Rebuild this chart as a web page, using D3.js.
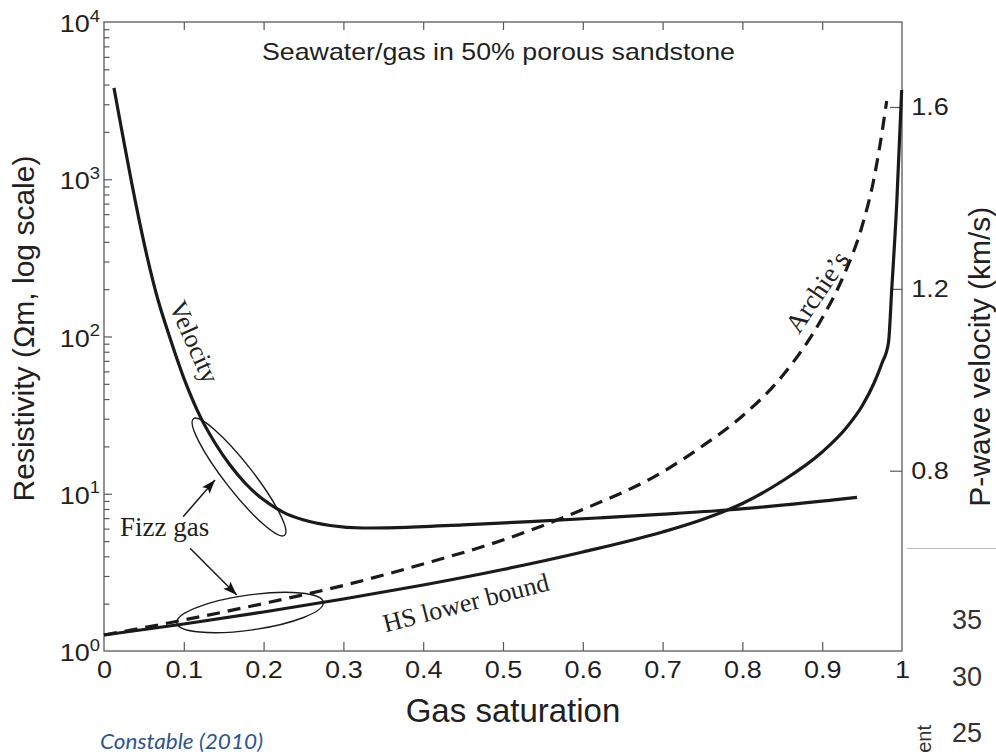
<!DOCTYPE html>
<html>
<head>
<meta charset="utf-8">
<script src="https://cdn.jsdelivr.net/npm/d3@7"></script>
<style>
  body { margin: 0; background: #fff; }
  svg { display: block; }
  .sans { font-family: "Liberation Sans", Arial, Helvetica, sans-serif; fill: #231f20; }
  .note { font-family: "Liberation Serif", "Times New Roman", serif; fill: #231f20; }
  .axis line { stroke: #58595b; stroke-width: 1.2; }
</style>
</head>
<body>
<script>
// Gas saturation vs resistivity (left, log) and P-wave velocity (right)
const velSw  = [0.0125, 0.0677, 0.0827, 0.1015, 0.1203, 0.1391, 0.1579, 0.1767, 0.1992, 0.2243,
                0.2494, 0.2832, 0.3246, 0.3672, 0.4499, 0.5338, 0.6178, 0.6967, 0.7807, 0.9436];
const velKms = [1.642, 1.1755, 1.092, 0.997, 0.920, 0.861, 0.8125, 0.773, 0.737, 0.709,
                0.692, 0.6795, 0.674, 0.675, 0.681, 0.688, 0.696, 0.704, 0.7135, 0.7415];

const hsSw  = [0, 0.1, 0.2, 0.3, 0.4, 0.5, 0.6, 0.7, 0.75, 0.8, 0.85, 0.9,
               0.93, 0.95, 0.965, 0.975, 0.983, 0.9871, 0.9934, 0.9996];
const hsRes = [1.264, 1.485, 1.770, 2.142, 2.629, 3.299, 4.263, 5.712, 6.859, 8.670, 12.05, 18.43,
               26.19, 36.14, 50.62, 67.84, 90.9, 197.6, 703, 3694];

const archieSw  = [0, 0.1, 0.2, 0.3, 0.4, 0.5, 0.6, 0.7, 0.75, 0.8, 0.85, 0.9,
                   0.925, 0.95, 0.964, 0.972, 0.9808];
const archieRes = [1.264, 1.575, 2.005, 2.610, 3.574, 5.081, 7.940, 13.75, 20.12, 31.22, 56.08, 131.1,
                   232.1, 504.3, 960.5, 1604, 3145];

const xTicks = [0, 0.1, 0.2, 0.3, 0.4, 0.5, 0.6, 0.7, 0.8, 0.9, 1];
const xTickLabels = ["0", "0.1", "0.2", "0.3", "0.4", "0.5", "0.6", "0.7", "0.8", "0.9", "1"];
const resDecades = [0, 1, 2, 3, 4];
const velTicks = [0.8, 1.2, 1.6];
const sideLabels = ["35", "30", "25"];

const W = 996, H = 755;
const plotL = 104, plotR = 902, plotT = 22, plotB = 651;
const stretch = "scale(1.15,1)";

const svg = d3.select("body").append("svg")
  .attr("width", W)
  .attr("height", H);

const defs = svg.append("defs");
defs.append("marker")
    .attr("id", "head")
    .attr("markerUnits", "userSpaceOnUse")
    .attr("viewBox", "0 0 14 10")
    .attr("markerWidth", 14)
    .attr("markerHeight", 10)
    .attr("refX", 14)
    .attr("refY", 5)
    .attr("orient", "auto")
  .append("path")
    .attr("d", "M0,0 L14,5 L0,10 L3,5 Z")
    .attr("fill", "#111");

const x = d3.scaleLinear().domain([0, 1]).range([plotL, plotR]);
const y = d3.scaleLog().domain([1, 1e4]).range([plotB, plotT]);
const yV = d3.scaleLinear().domain([0.8, 1.6]).range([470.7, 107]);

// frame
svg.append("rect")
   .attr("x", plotL).attr("y", plotT)
   .attr("width", plotR - plotL).attr("height", plotB - plotT)
   .attr("fill", "none")
   .attr("stroke", "#58595b")
   .attr("stroke-width", 1.3);

// bottom axis
const xAxis = svg.append("g")
  .attr("class", "axis sans")
  .attr("transform", `translate(0,${plotB})`)
  .call(d3.axisBottom(x)
          .tickValues(xTicks)
          .tickSize(-9)
          .tickPadding(10)
          .tickFormat((d, i) => xTickLabels[i]));
xAxis.select(".domain").remove();
xAxis.selectAll("text")
     .attr("font-size", 23.5)
     .attr("fill", "#231f20")
     .attr("transform", stretch);
xAxis.selectAll(".tick line").filter(d => d === 0 || d === 1).remove();

// top axis ticks
const topAxis = svg.append("g")
  .attr("class", "axis")
  .attr("transform", `translate(0,${plotT})`)
  .call(d3.axisTop(x).tickValues(xTicks.slice(1, -1)).tickSize(-8).tickFormat(""));
topAxis.select(".domain").remove();

// left log axis: minor and major ticks
const minor = [];
resDecades.slice(0, -1).forEach(d => {
  for (let k = 2; k <= 9; k++) minor.push(k * Math.pow(10, d));
});
const yMinor = svg.append("g")
  .attr("class", "axis")
  .attr("transform", `translate(${plotL},0)`)
  .call(d3.axisLeft(y).tickValues(minor).tickSize(-5.5).tickFormat(""));
yMinor.select(".domain").remove();

const yMajor = svg.append("g")
  .attr("class", "axis")
  .attr("transform", `translate(${plotL},0)`)
  .call(d3.axisLeft(y).tickValues(resDecades.slice(1, -1).map(d => Math.pow(10, d)))
          .tickSize(-8).tickFormat(""));
yMajor.select(".domain").remove();

const decLabels = svg.append("g").attr("class", "sans");
resDecades.forEach(d => {
  const t = decLabels.append("text")
    .attr("text-anchor", "end")
    .attr("transform", `translate(${plotL - 4},${y(Math.pow(10, d)) + 10}) ${stretch}`)
    .attr("font-size", 23.5);
  t.append("tspan").text("10");
  t.append("tspan").attr("dy", -10.5).attr("font-size", 16).text(d);
});

// right velocity axis
const yRight = svg.append("g")
  .attr("class", "axis sans")
  .attr("transform", `translate(${plotR},0)`)
  .call(d3.axisRight(yV).tickValues(velTicks).tickSize(-12).tickPadding(8)
          .tickFormat(d3.format(".1f")));
yRight.select(".domain").remove();
yRight.selectAll("text")
      .attr("font-size", 23.5)
      .attr("fill", "#231f20")
      .attr("transform", stretch);

// axis titles
svg.append("text")
   .attr("class", "sans")
   .attr("text-anchor", "middle")
   .attr("x", 513).attr("y", 722)
   .attr("font-size", 33)
   .text("Gas saturation");

svg.append("text")
   .attr("class", "sans")
   .attr("text-anchor", "middle")
   .attr("transform", "translate(33.5,328.5) rotate(-90)")
   .attr("font-size", 30)
   .text("Resistivity (\u03A9m, log scale)");

svg.append("text")
   .attr("class", "sans")
   .attr("text-anchor", "middle")
   .attr("transform", "translate(990,356.7) rotate(-90)")
   .attr("font-size", 30)
   .text("P-wave velocity (km/s)");

svg.append("text")
   .attr("class", "sans")
   .attr("text-anchor", "middle")
   .attr("x", 498.5).attr("y", 60)
   .attr("font-size", 24)
   .attr("textLength", 473)
   .attr("lengthAdjust", "spacingAndGlyphs")
   .text("Seawater/gas in 50% porous sandstone");

// curves
const resLine = d3.line()
  .x(d => x(d[0]))
  .y(d => y(d[1]))
  .curve(d3.curveMonotoneX);
const velLine = d3.line()
  .x(d => x(d[0]))
  .y(d => yV(d[1]))
  .curve(d3.curveMonotoneX);

const curves = svg.append("g")
  .attr("fill", "none")
  .attr("stroke", "#1a1a1a")
  .attr("stroke-width", 3.2);

curves.append("path")
      .attr("d", velLine(d3.zip(velSw, velKms)));
curves.append("path")
      .attr("d", resLine(d3.zip(hsSw, hsRes)));
curves.append("path")
      .attr("stroke-dasharray", "13,8")
      .attr("d", resLine(d3.zip(archieSw, archieRes)));

// annotations
const ann = svg.append("g").attr("class", "note");

function rotLabel(txt, sw, r, angle, size) {
  ann.append("text")
     .attr("text-anchor", "middle")
     .attr("dominant-baseline", "central")
     .attr("font-size", size)
     .attr("transform", `translate(${x(sw)},${y(r)}) rotate(${angle})`)
     .text(txt);
}
rotLabel("Velocity", 0.1128, 92.3, 66, 26);
rotLabel("Archie\u2019s", 0.8935, 191.9, -56, 27);
rotLabel("HS lower bound", 0.4536, 2.02, -14.5, 26);

ann.append("text")
   .attr("x", x(0.02)).attr("y", y(5.39))
   .attr("font-size", 27)
   .text("Fizz gas");

const rings = svg.append("g")
  .attr("fill", "none")
  .attr("stroke", "#1a1a1a")
  .attr("stroke-width", 1.4);
rings.append("ellipse")
     .attr("rx", 74).attr("ry", 14)
     .attr("transform", `translate(${x(0.1692)},${y(12.78)}) rotate(52)`);
rings.append("ellipse")
     .attr("rx", 74).attr("ry", 17.5)
     .attr("transform", `translate(${x(0.183)},${y(1.757)}) rotate(-8)`);

const arrows = svg.append("g")
  .attr("stroke", "#1a1a1a")
  .attr("stroke-width", 1.5)
  .attr("marker-end", "url(#head)");
arrows.append("line")
      .attr("x1", x(0.0992)).attr("y1", y(7.15))
      .attr("x2", x(0.1391)).attr("y2", y(12.23));
arrows.append("line")
      .attr("x1", x(0.1078)).attr("y1", y(4.50))
      .attr("x2", x(0.1663)).attr("y2", y(2.27));

// citation
svg.append("text")
   .attr("x", 100).attr("y", 749)
   .attr("font-family", "Lato, 'Open Sans', sans-serif")
   .attr("font-style", "italic")
   .attr("font-size", 22)
   .attr("fill", "#2f5496")
   .attr("textLength", 163)
   .attr("lengthAdjust", "spacingAndGlyphs")
   .text("Constable (2010)");

// leftover slide content at the lower right
svg.append("line")
   .attr("x1", 907).attr("x2", W)
   .attr("y1", 548.5).attr("y2", 548.5)
   .attr("stroke", "#bdbdbd")
   .attr("stroke-width", 1.2);

const side = svg.append("g").attr("class", "sans");
side.selectAll("text")
    .data(sideLabels)
    .join("text")
    .attr("x", 982)
    .attr("y", (d, i) => 620 + i * 56.5)
    .attr("dy", "0.35em")
    .attr("text-anchor", "end")
    .attr("font-size", 27)
    .attr("fill", "#333")
    .text(d => d);

side.append("text")
    .attr("text-anchor", "end")
    .attr("transform", "translate(931,725) rotate(-90)")
    .attr("font-size", 20)
    .attr("fill", "#333")
    .text("ent");
</script>
</body>
</html>
